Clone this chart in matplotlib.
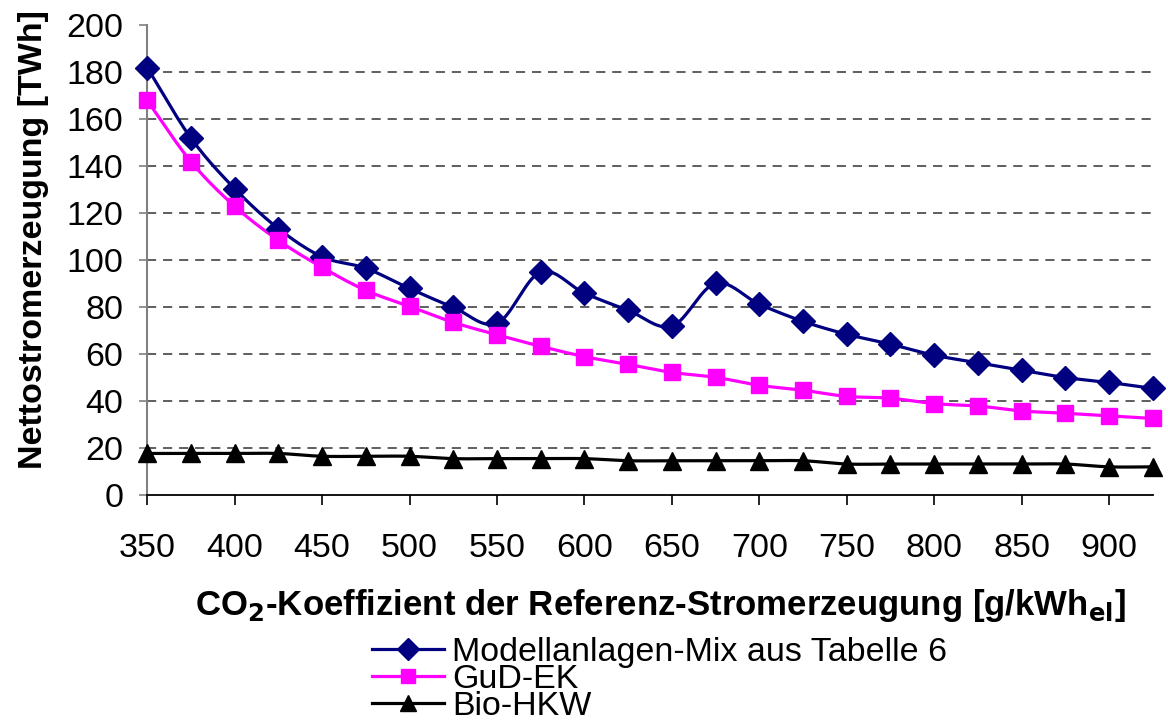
import numpy as np
import matplotlib.pyplot as plt
from matplotlib.lines import Line2D

# CO2 coefficient of reference power generation [g/kWh_el]
co2 = [350, 375, 400, 425, 450, 475, 500, 525, 550, 575, 600, 625,
       650, 675, 700, 725, 750, 775, 800, 825, 850, 875, 900, 925]

# net power generation [TWh]
mix = [182, 152, 130.5, 113.5, 101.5, 96.6, 88, 80, 73.2, 95, 86, 78.7,
       72, 90.2, 81.3, 74, 68.5, 64.3, 59.6, 56.4, 53.2, 50.1, 48, 45.5]
gud = [168, 142, 123, 108.5, 97, 87.2, 80.4, 73.6, 68.3, 63.4, 59, 55.7,
       52.3, 50.2, 46.8, 44.7, 42.1, 41.3, 39, 38, 35.9, 34.9, 33.8, 32.7]
bio = [17.8, 17.8, 17.8, 17.8, 16.6, 16.6, 16.6, 15.6, 15.6, 15.6, 15.6, 14.7,
       14.7, 14.7, 14.7, 14.7, 13.3, 13.3, 13.3, 13.3, 13.3, 13.3, 12.1, 12.1]

labels = ['Modellanlagen-Mix aus Tabelle 6', 'GuD-EK', 'Bio-HKW']
colors = ['#000080', '#FF00FF', '#000000']
markers = ['D', 's', '^']
msizes = [12.5, 11.5, 12.5]

plt.rcParams['font.family'] = ['Liberation Sans', 'DejaVu Sans']


def smooth(x, y, n=20):
    # catmull-rom spline through the points (like excel "smoothed line")
    x = np.asarray(x, float)
    y = np.asarray(y, float)
    px = np.concatenate([[2 * x[0] - x[1]], x, [2 * x[-1] - x[-2]]])
    py = np.concatenate([[2 * y[0] - y[1]], y, [2 * y[-1] - y[-2]]])
    xs, ys = [], []
    t = np.linspace(0, 1, n, endpoint=False)
    for i in range(1, len(px) - 2):
        for p, out in ((px, xs), (py, ys)):
            p0, p1, p2, p3 = p[i - 1], p[i], p[i + 1], p[i + 2]
            out.extend(0.5 * ((2 * p1) + (-p0 + p2) * t
                              + (2 * p0 - 5 * p1 + 4 * p2 - p3) * t ** 2
                              + (-p0 + 3 * p1 - 3 * p2 + p3) * t ** 3))
    xs.append(x[-1])
    ys.append(y[-1])
    return xs, ys


fig = plt.figure(figsize=(11.68, 7.22), dpi=100)
ax = fig.add_axes([0.126, 0.314, 0.861, 0.651])

handles = []
for vals, lab, c, m, ms in zip([mix, gud, bio], labels, colors, markers, msizes):
    sx, sy = smooth(co2, vals)
    ax.plot(sx, sy, color=c, lw=2.3, zorder=3, solid_capstyle='round')
    ax.plot(co2, vals, ls='none', marker=m, ms=ms, color=c, mec=c, zorder=4, clip_on=False)
    handles.append(Line2D([], [], color=c, lw=2.3, marker=m, ms=ms - 1, mec=c))

ax.set_xlim(350, 925)
ax.set_ylim(0, 200)
ax.set_xticks(np.arange(350, 901, 50))
ax.set_yticks(np.arange(0, 201, 20))
for yv in range(20, 200, 20):
    ax.axhline(yv, color='#333333', lw=1.1, ls=(0, (6, 4.5)), zorder=1)

for s in ['top', 'right']:
    ax.spines[s].set_visible(False)
ax.spines['left'].set_color('#808080')
ax.spines['left'].set_linewidth(1.5)
ax.spines['bottom'].set_color('black')
ax.spines['bottom'].set_linewidth(1.3)
ax.tick_params(axis='y', direction='out', length=6, width=1.2, color='#808080',
               labelsize=24.5, pad=11)
ax.tick_params(axis='x', direction='out', length=7, width=1.2, color='black',
               labelsize=24.5, pad=20)

ax.set_ylabel('Nettostromerzeugung [TWh]', fontsize=24.5, fontweight='bold')
ax.yaxis.set_label_coords(-0.098, 0.545)
ax.set_xlabel(r'CO$_\mathbf{2}$-Koeffizient der Referenz-Stromerzeugung [g/kWh$_\mathbf{el}$]',
              fontsize=25, fontweight='bold')
ax.xaxis.set_label_coords(0.51, -0.196)

fig.legend(handles, labels, loc='upper left', bbox_to_anchor=(0.304, 0.141),
           fontsize=24.5, frameon=False, handlelength=2.1, handletextpad=0.25,
           labelspacing=-0.12, borderpad=0)

fig.savefig('out.png', dpi=100)
